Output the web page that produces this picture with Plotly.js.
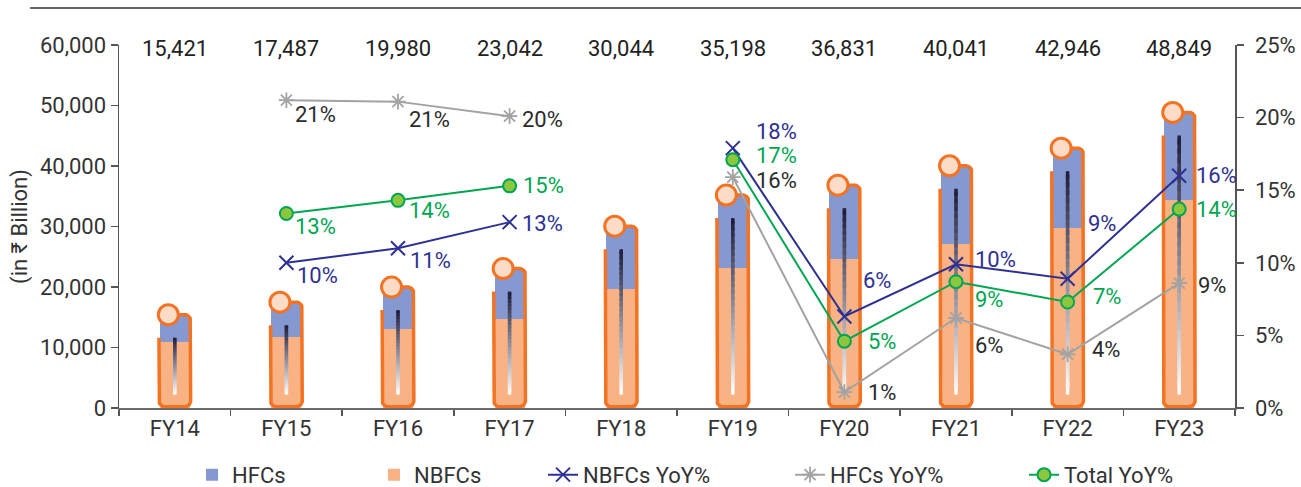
<!DOCTYPE html>
<html><head><meta charset="utf-8">
<script src="https://cdn.plot.ly/plotly-3.0.1.min.js"></script>
<style>html,body{margin:0;padding:0;background:#fff}#chart{width:1301px;height:487px}</style>
</head><body><div id="chart"></div>
<script>
// ---- data ----
const categories = ['FY14','FY15','FY16','FY17','FY18','FY19','FY20','FY21','FY22','FY23'];
const totals = [15421, 17487, 19980, 23042, 30044, 35198, 36831, 40041, 42946, 48849];
const nbfcs  = [10950, 11740, 13010, 14710, 19620, 23090, 24580, 27110, 29750, 34380];
const hfcs   = [4471, 5747, 6970, 8332, 10424, 12108, 12251, 12931, 13196, 14469];
const nbfcYoY  = [null, 10.0, 11.0, 12.8, null, 17.9, 6.3, 9.9, 8.9, 16.0];
const hfcYoY   = [null, 21.2, 21.1, 20.1, null, 15.9, 1.1, 6.2, 3.7, 8.6];
const totalYoY = [null, 13.4, 14.3, 15.3, null, 17.1, 4.6, 8.7, 7.3, 13.7];

// ---- label placement (pixel shifts, style only) ----
const nbfcOff  = [null,[12,-13],[13,-12],[13,-1],null,[24,17],[20,36],[20,5],[21,55],[18,0]];
const hfcOff   = [null,[10,-14],[12,-18],[13,-3],null,[24,-3],[25,0],[20,-28],[25,5],[20,-2]];
const totalOff = [null,[10,-13],[12,-10],[14,0],null,[24,4],[25,0],[20,-18],[26,6],[18,0]];

const FONT = 'Roboto, "DejaVu Sans", sans-serif';
const FS = 22;
const C = {
  blue:'#8598CF', peach:'#F9B283', orange:'#F37324', circle:'#FDDCC7',
  navy:'#2E3192', gray:'#A3A3A3', green:'#00A651', greenFill:'#8DC63F', text:'#333333'
};
const idx = categories.map((_, i) => i);

// geometry helpers (pixel-ish sizes converted to axis units)
const HW = 0.142;
const RX = 0.054, RY = 990;
const BASE = 200;
const CIRC_DX = -0.058;
const GAP_TOP = 3800, LINE_BOTTOM = 2200;

// outline trace (test-tube like border)
const ox = [], oy = [];
function arc(cx, cy, a0, a1) {
  const n = 8;
  for (let k = 0; k <= n; k++) {
    const a = (a0 + (a1 - a0) * k / n) * Math.PI / 180;
    ox.push(cx + RX * Math.cos(a)); oy.push(cy + RY * Math.sin(a));
  }
}
idx.forEach(i => {
  const t = nbfcs[i] + hfcs[i];
  ox.push(i - HW); oy.push(t - GAP_TOP);
  arc(i - HW + RX, BASE + RY, 180, 270);
  arc(i + HW - RX, BASE + RY, 270, 360);
  arc(i + HW - RX, t - RY, 0, 90);
  ox.push(i + CIRC_DX); oy.push(t);
  ox.push(null); oy.push(null);
});

const traces = [];
traces.push({
  type:'bar', name:'NBFCs', x: idx, y: nbfcs, width: 0.27,
  marker:{color:C.peach, line:{width:0}}, legendrank: 2, legendwidth: 124, hoverinfo:'skip'
});
traces.push({
  type:'bar', name:'HFCs', x: idx, y: hfcs, width: 0.27,
  marker:{color:C.blue, line:{width:0}}, legendrank: 1, legendwidth: 137, hoverinfo:'skip'
});
traces.push({
  type:'scatter', mode:'lines', x: ox, y: oy, showlegend:false, hoverinfo:'skip',
  line:{color:C.orange, width:3.5}, connectgaps:false
});

// gradient centre line (white at bottom -> dark at top), drawn in overlapping bands
const NB = 28;
const gradTop = [30, 27, 58], gradBot = [255, 255, 255];
for (let k = 0; k < NB; k++) {
  const f = (k + 0.5) / NB;
  const col = 'rgb(' + gradBot.map((b, j) => Math.round(b + (gradTop[j] - b) * f)).join(',') + ')';
  const gx = [], gy = [];
  idx.forEach(i => {
    const t = nbfcs[i] + hfcs[i] - GAP_TOP;
    const step = (t - LINE_BOTTOM) / NB;
    const y0 = LINE_BOTTOM + step * k;
    const y1 = Math.min(t, y0 + step * 1.6);
    gx.push(i, i, null); gy.push(y0, y1, null);
  });
  traces.push({type:'scatter', mode:'lines', x:gx, y:gy, showlegend:false, hoverinfo:'skip',
    line:{color:col, width:3.5}});
}

traces.push({
  type:'scatter', mode:'markers', x: idx.map(i => i + CIRC_DX), y: totals,
  showlegend:false, hoverinfo:'skip',
  marker:{size:20, color:C.circle, line:{color:C.orange, width:3}}
});

traces.push({
  type:'scatter', mode:'lines+markers', name:'HFCs YoY%', x: idx, y: hfcYoY, yaxis:'y2',
  line:{color:C.gray, width:2}, connectgaps:false, legendrank: 4, legendwidth: 189,
  marker:{symbol:'asterisk-open', size:13, color:C.gray, line:{color:C.gray, width:1.8}}
});
traces.push({
  type:'scatter', mode:'lines+markers', name:'NBFCs YoY%', x: idx, y: nbfcYoY, yaxis:'y2',
  line:{color:C.navy, width:2}, connectgaps:false, legendrank: 3, legendwidth: 202,
  marker:{symbol:'x-thin-open', size:14, color:C.navy, line:{color:C.navy, width:2}}
});
traces.push({
  type:'scatter', mode:'lines+markers', name:'Total YoY%', x: idx, y: totalYoY, yaxis:'y2',
  line:{color:C.green, width:2}, connectgaps:false, legendrank: 5, legendwidth: 150,
  marker:{symbol:'circle', size:13, color:C.greenFill, line:{color:C.green, width:2}}
});

// annotations
const annotations = [];
idx.forEach(i => {
  annotations.push({
    xref:'x', yref:'paper', x:i, y:1, yanchor:'middle', yshift:-3, showarrow:false,
    text: totals[i].toLocaleString('en-US'), font:{family:FONT, size:FS, color:'#222'}
  });
});
function addLabels(vals, offs, color) {
  vals.forEach((v, i) => {
    if (v === null) return;
    annotations.push({
      xref:'x', yref:'y2', x:i, y:v, xanchor:'left', yanchor:'middle',
      xshift: offs[i][0] - 2, yshift: offs[i][1], showarrow:false, borderpad:0,
      text: Math.round(v) + '%', font:{family:FONT, size:FS, color:color}
    });
  });
}
addLabels(nbfcYoY, nbfcOff, C.navy);
addLabels(hfcYoY, hfcOff, '#2b2b2b');
addLabels(totalYoY, totalOff, C.green);

const layout = {
  width:1301, height:487,
  margin:{l:119, r:66, t:45, b:79, autoexpand:false},
  paper_bgcolor:'#fff', plot_bgcolor:'#fff',
  font:{family:FONT, size:FS, color:C.text},
  barmode:'stack',
  showlegend:true,
  legend:{orientation:'h', traceorder:'normal', xref:'container', yref:'container',
          x:0.1476, xanchor:'left', y:0.025, yanchor:'middle',
          font:{family:FONT, size:FS, color:C.text}, bgcolor:'rgba(0,0,0,0)'},
  xaxis:{
    range:[-0.5, 9.5], tickmode:'array', tickvals: idx, ticktext: categories,
    showline:true, linecolor:'#6b6b6b', linewidth:2, showgrid:false, zeroline:false,
    ticks:'', tickfont:{family:FONT, size:FS, color:C.text},
    minor:{tickmode:'linear', tick0:0.5, dtick:1, ticks:'outside', ticklen:6, tickwidth:1.5, tickcolor:'#555'}
  },
  yaxis:{
    range:[0, 60000], dtick:10000, tickformat:',', showgrid:false, zeroline:false,
    showline:true, linecolor:'#555', linewidth:1.5, ticks:'outside', ticklen:7, tickwidth:1.5, tickcolor:'#555',
    tickfont:{family:FONT, size:FS, color:C.text},
    title:{text:'(in ₹ Billion)', font:{family:FONT, size:FS, color:C.text}, standoff:6}
  },
  yaxis2:{
    overlaying:'y', side:'right', range:[0, 25], dtick:5, ticksuffix:'%',
    showgrid:false, zeroline:false, showline:true, linecolor:'#555', linewidth:1.5,
    ticks:'outside', ticklen:7, tickwidth:1.5, tickcolor:'#555', ticklabelstandoff:7,
    tickfont:{family:FONT, size:FS, color:C.text}
  },
  shapes:[{type:'line', xref:'paper', yref:'paper', x0:-0.0797, x1:1.06, y0:1.1019, y1:1.1019,
           line:{color:'#333', width:1.5}}],
  annotations: annotations
};

Plotly.newPlot('chart', traces, layout, {displayModeBar:false, staticPlot:true});
</script>
</body></html>
